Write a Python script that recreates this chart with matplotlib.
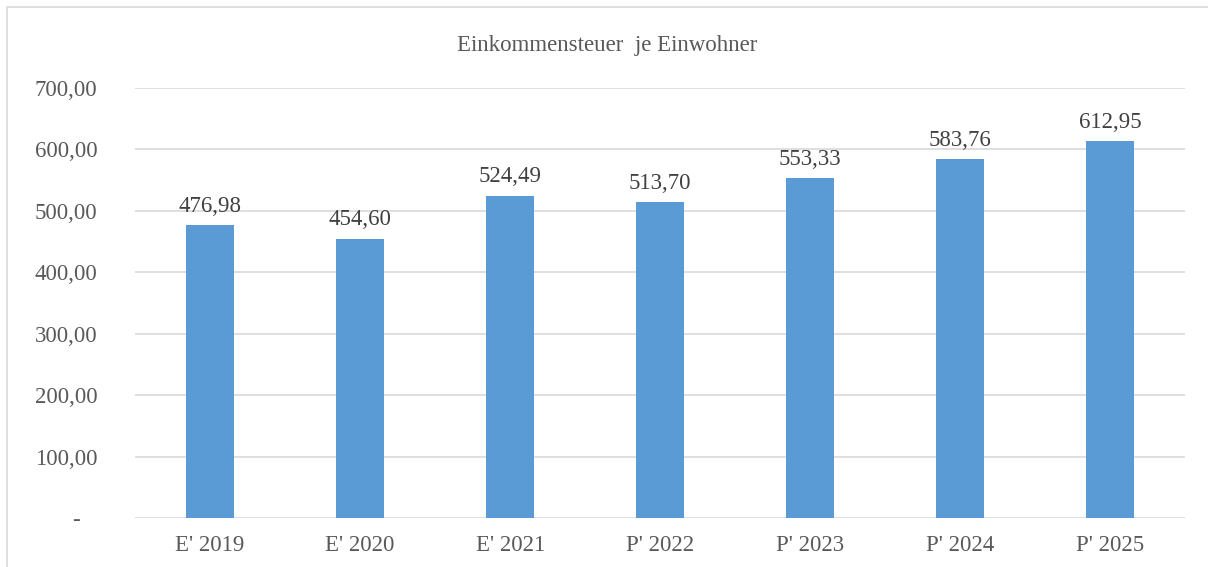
import numpy as np
import matplotlib
matplotlib.use("Agg")
import matplotlib.pyplot as plt
from matplotlib.patches import Rectangle

# ========== data ==========
categories = ["E' 2019", "E' 2020", "E' 2021", "P' 2022", "P' 2023", "P' 2024", "P' 2025"]
values = [476.98, 454.60, 524.49, 513.70, 553.33, 583.76, 612.95]
y_ticks = [0, 100, 200, 300, 400, 500, 600, 700]

plt.rcParams['font.family'] = ['Liberation Serif', 'DejaVu Serif']

def fmt_de(v):
    return f"{v:,.2f}".replace(",", "X").replace(".", ",").replace("X", ".")

fig = plt.figure(figsize=(12.08, 5.67), dpi=100)
ax = fig.add_axes([0.1118, 0.0864, 0.8695, 0.7584])

# border around the chart area
fig.patches.append(Rectangle((7 / 1208, -0.05), 1.1, 1.05 - 7 / 567,
                             transform=fig.transFigure, fill=False,
                             edgecolor='#D9D9D9', linewidth=1.2))

x = np.arange(len(categories))
bars = ax.bar(x, values, width=0.32, color='#5B9BD5', zorder=3)

for xi, v in zip(x, values):
    ax.annotate(fmt_de(v), (xi, v), xytext=(0, 6), textcoords='offset points',
                ha='center', va='bottom', fontsize=16.5, color='#404040')

ax.set_xlim(-0.5, len(categories) - 0.5)
ax.set_ylim(0, 700)
ax.set_yticks(y_ticks)
# Excel-Buchhaltungsformat: Null als "-", etwas weiter links
ax.set_yticklabels(['-   ' if t == 0 else fmt_de(t) for t in y_ticks])
ax.set_xticks(x)
ax.set_xticklabels(categories)
ax.tick_params(axis='both', length=0, labelsize=16.5, labelcolor='#595959')
ax.tick_params(axis='y', pad=27)
ax.tick_params(axis='x', pad=12)
for lab in ax.get_yticklabels():
    lab.set_horizontalalignment('right')

ax.grid(axis='y', color='#D9D9D9', linewidth=1.2, zorder=0)
for s in ax.spines.values():
    s.set_visible(False)

fig.text(0.503, 0.9206, "Einkommensteuer  je Einwohner", ha='center', va='center',
         fontsize=16.5, color='#595959')

fig.savefig("out.png", dpi=100)
